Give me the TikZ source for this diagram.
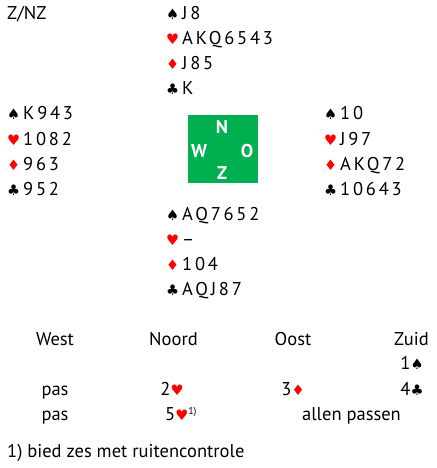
\documentclass[tikz,border=0pt]{standalone}
\usepackage{fontspec}
\setmainfont{PT Sans}
\newfontfamily\handfont[LetterSpace=15]{PT Sans}
\newfontfamily\suitfont{DejaVu Sans}
\usetikzlibrary{positioning}
\definecolor{tafelgroen}{HTML}{00B050}
\definecolor{kaartrood}{HTML}{FF0000}
\newcommand{\schop}{{\suitfont\fontsize{14.5}{14.5}\selectfont ♠}}
\newcommand{\hart}{{\suitfont\fontsize{14.5}{14.5}\selectfont\textcolor{kaartrood}{♥}}}
\newcommand{\ruit}{{\suitfont\fontsize{14.5}{14.5}\selectfont\textcolor{kaartrood}{♦}}}
\newcommand{\klav}{{\suitfont\fontsize{14.5}{14.5}\selectfont ♣}}
\newcommand{\kleur}[1]{\makebox[16pt][l]{#1}}

\begin{document}
\begin{tikzpicture}[x=1pt, y=-1pt, every node/.style={inner sep=0pt, font=\fontsize{18.5}{20}\selectfont},
    hand/.style={anchor=base west, font=\fontsize{18.5}{20}\handfont},
    bid/.style={anchor=base},
    windroos/.style={anchor=base, text=white, font=\fontsize{18.5}{20}\selectfont\bfseries}]
        \useasboundingbox (0,0) rectangle (436,468);

        \node[anchor=base west] (dealer) at (7,20) {Z/NZ};

        % noord
        \node[hand] (n1) at (166,20) {\kleur{\schop}J8};
        \node[hand] (n2) at (166,45) {\kleur{\hart}AKQ6543};
        \node[hand] (n3) at (166,70) {\kleur{\ruit}J85};
        \node[hand] (n4) at (166,95) {\kleur{\klav}K};

        % west
        \node[hand] (w1) at (7,120) {\kleur{\schop}K943};
        \node[hand] (w2) at (7,145) {\kleur{\hart}1082};
        \node[hand] (w3) at (7,170) {\kleur{\ruit}963};
        \node[hand] (w4) at (7,195) {\kleur{\klav}952};

        % oost
        \node[hand] (o1) at (324,120) {\kleur{\schop}10};
        \node[hand] (o2) at (324,145) {\kleur{\hart}J97};
        \node[hand] (o3) at (324,170) {\kleur{\ruit}AKQ72};
        \node[hand] (o4) at (324,195) {\kleur{\klav}10643};

        % zuid
        \node[hand] (z1) at (166,220) {\kleur{\schop}AQ7652};
        \node[hand] (z2) at (166,245) {\kleur{\hart}–};
        \node[hand] (z3) at (166,270) {\kleur{\ruit}104};
        \node[hand] (z4) at (166,295) {\kleur{\klav}AQJ87};

        % tafel
        \node[fill=tafelgroen, minimum width=70pt, minimum height=68pt] (tafel) at (223,149) {};
        \node[windroos] (tN) at (222,133) {N};
        \node[windroos] (tW) at (199,157) {W};
        \node[windroos] (tO) at (247,157) {O};
        \node[windroos] (tZ) at (222,179) {Z};

        % bieding
        \node[bid] (hW) at (55,345) {West};
        \node[bid] (hN) at (173.5,345) {Noord};
        \node[bid] (hO) at (293,345) {Oost};
        \node[bid] (hZ) at (411.5,345) {Zuid};

        \node[bid] (b1) at (412,369) {1\schop};
        \node[bid] (b2) at (55,395) {pas};
        \node[bid] (b3) at (172,395) {2\hart};
        \node[bid] (b4) at (293,395) {3\ruit};
        \node[bid] (b5) at (412,395) {4\klav};
        \node[bid] (b6) at (55,420) {pas};
        \node[anchor=base west] (b7) at (165,420) {5\hart\raisebox{6pt}{\fontsize{10}{10}\selectfont 1)}};
        \node[bid] (b8) at (351.5,420) {allen passen};

        \node[anchor=base west] (noot) at (7,457) {1) bied zes met ruitencontrole};
    \end{tikzpicture}
\end{document}
